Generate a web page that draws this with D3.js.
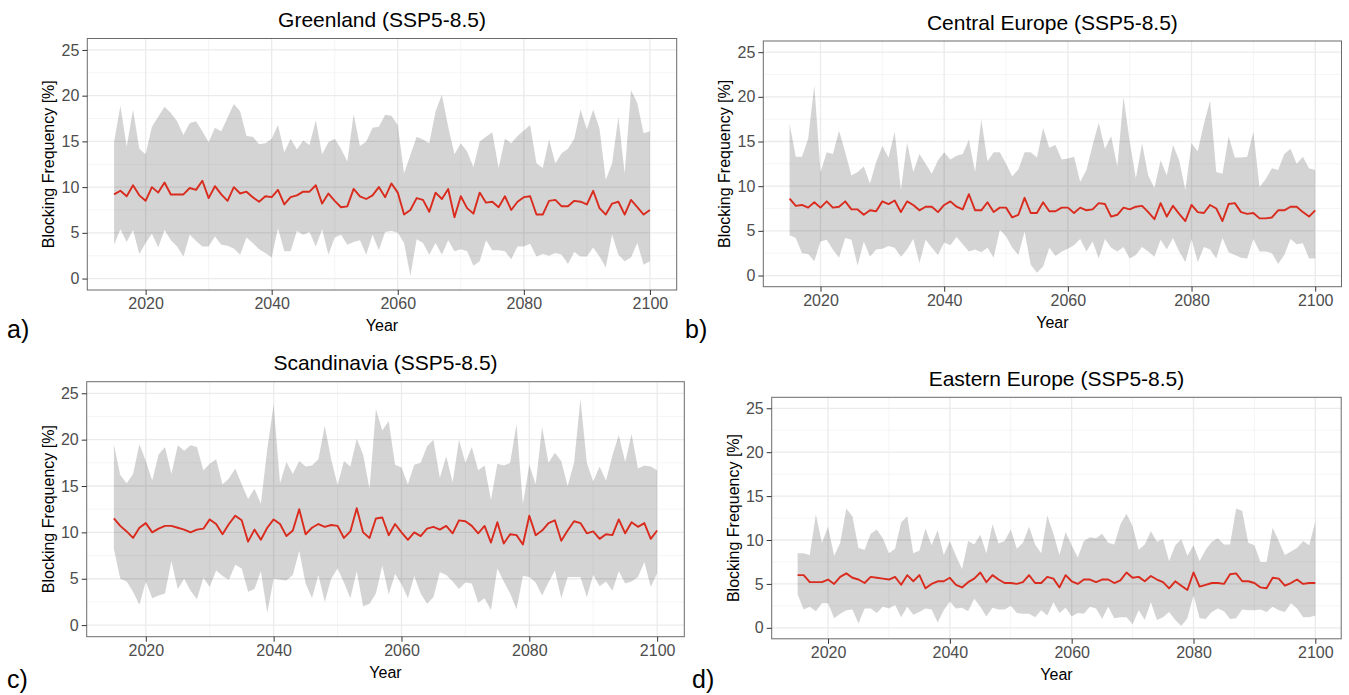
<!DOCTYPE html>
<html>
<head>
<meta charset="utf-8">
<script src="https://cdn.jsdelivr.net/npm/d3@7"></script>
<style>
  html, body { margin: 0; padding: 0; background: #fff; }
  svg { display: block; }
</style>
</head>
<body>
<svg id="chart" width="1349" height="695"></svg>
<script>
// ---------------- DATA ----------------
const years = d3.range(2015, 2101);
const yTicks = [0, 5, 10, 15, 20, 25];
const xTicks = [2020, 2040, 2060, 2080, 2100];
const titles = ["Greenland (SSP5-8.5)", "Central Europe (SSP5-8.5)", "Scandinavia (SSP5-8.5)", "Eastern Europe (SSP5-8.5)"];
const tags = ["a)", "b)", "c)", "d)"];
const yLabel = "Blocking Frequency [%]";
const xLabel = "Year";

// Greenland
const aMean = [9.2,9.6,9.0,10.2,9.1,8.5,10.0,9.4,10.5,9.2,9.2,9.2,9.9,9.7,10.7,8.8,10.1,9.2,8.5,10.0,9.3,9.5,8.9,8.4,9.0,8.9,9.7,8.1,8.9,9.1,9.5,9.5,10.2,8.2,9.3,8.5,7.8,7.9,9.8,9.0,8.7,9.1,10.0,8.9,
  10.4,9.4,7.0,7.5,8.8,8.6,7.3,9.4,8.7,9.8,6.7,9.0,7.7,7.1,9.4,8.3,8.4,7.8,9.0,7.5,8.4,8.9,9.0,7.0,7.0,8.5,8.6,7.9,7.9,8.5,8.4,8.1,9.6,7.7,7.0,8.2,8.4,7.0,8.6,7.8,7.0,7.5];
const aHi = [15.0,18.9,14.4,18.5,14.2,13.6,16.6,17.7,18.8,18.1,17.2,15.7,17.0,17.2,16.1,14.9,16.5,16.1,17.6,19.1,18.3,15.6,15.5,14.7,14.8,15.3,16.8,13.8,15.3,14.1,15.1,14.6,17.3,13.6,14.9,15.3,14.2,12.8,18.0,14.5,15.0,16.5,16.6,17.9,
  17.8,16.8,11.5,13.5,15.5,15.2,14.8,18.3,20.1,16.6,13.6,14.8,13.9,12.2,15.0,15.5,16.0,12.1,15.3,14.8,15.6,16.2,16.8,12.6,12.1,15.2,12.6,13.7,14.2,15.3,18.5,16.3,18.5,16.4,10.8,12.6,17.7,11.5,20.6,19.2,15.9,16.1];
const aLo = [3.7,5.4,4.0,5.3,2.7,3.9,4.9,3.4,5.3,4.2,3.5,2.4,4.8,4.1,3.5,3.5,4.6,3.7,3.6,3.3,2.6,4.5,3.9,3.2,2.8,2.3,5.5,3.0,3.0,5.2,4.8,5.1,3.5,5.4,2.6,4.5,4.8,3.7,4.0,4.2,2.6,4.8,3.1,5.1,
  5.2,5.0,3.9,0.3,4.3,3.9,2.6,3.9,2.6,4.2,3.0,3.2,3.0,1.4,1.9,4.2,3.1,3.1,3.0,2.1,3.5,3.5,3.8,2.4,2.7,2.5,2.8,2.6,1.6,2.9,2.4,2.4,3.4,2.4,1.2,4.8,2.6,1.9,2.3,3.9,1.5,1.9];

// Central Europe
const bMean = [8.6,7.8,7.9,7.6,8.2,7.6,8.3,7.6,7.7,8.3,7.4,7.4,6.8,7.3,7.2,8.3,8.0,8.4,7.1,8.3,7.9,7.3,7.7,7.7,7.1,7.9,8.3,7.7,7.4,9.1,7.3,7.3,8.2,7.1,7.6,7.6,6.5,6.8,8.7,7.0,7.0,8.2,7.2,
  7.2,7.6,7.6,7.0,7.6,7.3,7.4,8.1,8.0,6.6,6.8,7.6,7.4,7.7,7.8,7.1,6.3,8.1,6.6,7.8,6.9,6.1,7.9,7.1,7.0,7.9,7.5,6.1,8.0,8.1,7.1,6.9,7.0,6.4,6.4,6.5,7.3,7.3,7.7,7.7,7.1,6.6,7.3];
const bHi = [17.0,13.3,13.3,15.3,21.3,11.6,13.8,13.6,16.2,13.8,11.2,11.6,12.2,10.3,12.7,14.5,13.2,16.1,9.6,14.9,11.6,13.6,12.5,11.4,12.9,13.8,13.0,13.4,13.6,15.2,11.6,17.5,12.8,13.8,13.8,12.5,11.1,11.9,13.8,13.8,13.2,16.5,14.3,
  14.6,13.0,13.1,13.3,10.5,11.8,14.6,17.1,14.2,15.6,12.2,20.0,15.0,10.9,14.8,11.2,9.8,12.9,11.2,14.6,12.9,9.6,14.8,13.9,17.0,19.6,11.6,11.4,15.6,13.2,13.2,13.3,16.1,9.9,10.8,12.0,11.8,13.6,14.2,12.5,13.3,12.0,11.8];
const bLo = [4.5,4.2,2.5,2.4,1.6,3.8,4.0,2.9,2.0,4.2,4.0,1.1,3.8,2.1,2.9,3.0,3.3,3.1,2.1,2.9,4.1,1.4,4.0,3.1,2.3,3.7,3.4,4.3,3.5,2.7,2.9,2.6,3.1,2.0,5.1,4.4,3.1,2.3,4.9,1.2,0.3,1.0,3.1,
  2.2,2.7,3.0,3.4,4.1,2.7,3.8,1.9,4.1,3.1,2.7,3.2,1.9,2.3,3.2,2.7,2.1,4.0,2.9,4.2,2.7,1.5,4.1,1.5,3.2,2.9,1.9,4.2,2.6,2.3,2.0,1.9,4.1,2.7,2.7,2.5,1.3,2.3,4.1,3.5,3.6,1.9,1.9];

// Scandinavia
const cMean = [11.5,10.7,10.1,9.4,10.5,11.0,10.0,10.4,10.7,10.7,10.5,10.3,10.0,10.3,10.4,11.4,10.9,9.8,10.9,11.8,11.3,9.0,10.3,9.2,10.5,11.4,10.9,9.6,10.2,12.5,9.8,10.5,10.9,10.6,10.8,10.7,9.4,10.1,12.6,10.0,9.4,11.5,11.6,
  9.7,10.9,10.0,9.2,10.0,9.6,10.4,10.6,10.3,10.7,9.9,11.3,11.2,10.7,9.9,10.7,8.9,11.1,8.8,9.8,9.7,8.7,11.8,9.7,10.2,11.0,11.3,9.1,10.2,11.2,11.0,9.9,10.1,9.3,9.8,9.7,11.4,9.9,11.1,10.6,11.0,9.3,10.2];
const cHi = [19.5,16.2,15.3,16.3,19.5,17.7,15.6,18.4,19.2,16.3,19.4,18.8,19.4,19.2,16.7,17.4,17.9,15.2,15.8,16.9,15.2,13.6,14.7,13.1,19.0,23.8,15.3,17.6,16.3,17.7,17.1,17.2,17.9,21.5,17.9,15.1,17.7,17.1,20.1,18.4,14.7,23.3,21.0,
  22.0,17.3,17.0,15.2,17.3,17.5,19.3,20.0,15.9,18.2,15.4,20.0,17.5,19.2,16.7,17.2,13.5,17.4,17.2,17.5,21.7,13.1,17.3,15.2,21.4,17.5,18.6,17.7,15.0,17.5,24.4,17.5,15.5,17.1,15.6,18.3,20.5,17.6,20.6,16.9,17.2,17.1,16.7];
const cLo = [8.2,5.0,4.7,3.6,2.2,4.7,2.9,3.2,3.4,6.9,3.9,5.0,3.7,2.8,5.1,4.1,5.9,5.3,4.9,6.5,6.1,3.6,3.9,5.8,1.3,5.0,4.9,4.8,5.4,8.0,4.5,2.9,5.4,2.5,5.0,6.1,4.6,2.9,5.8,2.0,2.3,3.4,6.4,
  3.3,5.5,4.4,2.9,5.3,3.4,2.3,3.0,5.7,5.4,4.7,3.9,4.6,4.5,2.4,2.9,1.6,6.1,4.7,3.4,1.7,5.3,5.2,4.6,3.2,4.6,5.9,2.9,5.2,5.2,5.2,3.0,5.4,4.2,4.7,3.7,5.8,4.5,4.7,5.2,6.8,4.1,5.6];

// Eastern Europe
const dMean = [6.0,6.0,5.2,5.2,5.2,5.5,5.0,5.8,6.2,5.7,5.5,5.1,5.8,5.7,5.6,5.5,5.8,4.9,6.0,5.3,6.0,4.5,5.0,5.3,5.3,5.7,4.9,4.6,5.2,5.6,6.3,5.2,6.0,5.5,5.1,5.1,5.0,5.2,6.0,5.1,5.1,5.8,
  5.6,4.6,6.0,5.3,5.0,5.5,5.5,5.2,5.5,5.5,5.1,5.4,6.3,5.7,5.8,5.3,5.9,5.5,5.2,4.5,5.3,4.8,4.3,6.3,4.7,4.9,5.1,5.1,5.0,6.1,6.2,5.3,5.3,5.1,4.6,4.5,5.7,5.6,4.8,5.1,5.5,5.0,5.1,5.1];
const dHi = [8.5,8.5,8.3,12.9,9.7,11.5,8.2,9.7,13.6,12.7,9.1,8.9,10.7,11.2,10.2,8.5,9.0,12.0,12.7,8.5,8.8,11.3,9.4,11.1,8.3,9.9,8.2,6.7,9.9,9.5,10.6,8.5,11.8,9.6,9.9,11.2,9.0,9.7,11.5,9.5,8.5,12.8,
  10.7,8.3,10.9,9.4,8.0,9.9,10.3,10.2,10.7,9.7,9.5,11.8,13.0,11.6,8.9,9.5,11.0,9.8,10.1,7.6,9.4,10.1,8.2,9.4,7.6,8.9,9.8,10.2,9.5,9.5,13.6,13.3,9.7,9.4,7.5,7.5,11.4,9.9,8.3,8.7,9.1,9.9,9.4,12.1];
const dLo = [3.8,2.1,2.4,1.9,2.8,2.8,1.1,1.6,2.0,2.1,0.5,2.2,2.2,1.7,2.4,2.2,2.6,1.2,2.4,1.5,1.8,2.2,2.1,0.6,2.0,3.0,2.2,2.3,1.9,3.3,2.4,1.3,2.3,2.1,2.1,2.5,1.7,1.6,1.6,1.2,2.0,1.4,
  2.9,1.7,2.3,1.3,1.7,1.6,2.4,2.2,1.0,2.4,1.1,1.2,1.2,0.4,2.0,0.9,2.9,0.9,1.2,1.8,0.9,0.2,1.1,3.7,1.1,1.0,1.8,2.2,1.9,1.0,1.1,2.1,2.0,2.0,2.1,1.8,2.4,2.0,1.8,2.8,2.2,1.2,1.2,1.4];

// ---------------- LAYOUT ----------------
const panelData = [
  { mean: aMean, lo: aLo, hi: aHi },
  { mean: bMean, lo: bLo, hi: bHi },
  { mean: cMean, lo: cLo, hi: cHi },
  { mean: dMean, lo: dLo, hi: dHi }
];
const boxes = [
  { l: 87.3,  t: 38.5,  r: 676.7,  b: 290.0 },
  { l: 763.3, t: 41.0,  r: 1341.5, b: 286.7 },
  { l: 86.7,  t: 381.7, r: 684.3,  b: 636.7 },
  { l: 771.7, t: 397.3, r: 1341.2, b: 638.8 }
];
const tagPos = [
  { x: 7,   y: 338 },
  { x: 685, y: 338 },
  { x: 7,   y: 688 },
  { x: 692, y: 688 }
];

const FONT = "'Liberation Sans', Arial, Helvetica, sans-serif";
const svg = d3.select("#chart");
svg.append("rect").attr("width", 1349).attr("height", 695).attr("fill", "#fff");

panelData.forEach((pd, i) => {
  const bx = boxes[i];
  const x = d3.scaleLinear().domain([2015 - 4.25, 2100 + 4.25]).range([bx.l, bx.r]);
  const y = d3.scaleLinear().domain([-1.25, 26.25]).range([bx.b, bx.t]);
  const g = svg.append("g");

  const clipId = "clip" + i;
  svg.append("clipPath").attr("id", clipId)
    .append("rect").attr("x", bx.l).attr("y", bx.t).attr("width", bx.r - bx.l).attr("height", bx.b - bx.t);

  const plot = g.append("g").attr("clip-path", `url(#${clipId})`);

  // minor grid
  const yMinor = yTicks.slice(0, -1).map(v => v + 2.5);
  const xMinor = xTicks.slice(0, -1).map(v => v + 10);
  plot.selectAll(".ymin").data(yMinor).join("line")
    .attr("x1", bx.l).attr("x2", bx.r).attr("y1", d => y(d)).attr("y2", d => y(d))
    .attr("stroke", "#F2F2F2").attr("stroke-width", 0.8);
  plot.selectAll(".xmin").data(xMinor).join("line")
    .attr("y1", bx.t).attr("y2", bx.b).attr("x1", d => x(d)).attr("x2", d => x(d))
    .attr("stroke", "#F2F2F2").attr("stroke-width", 0.8);
  // major grid
  plot.selectAll(".ymaj").data(yTicks).join("line")
    .attr("x1", bx.l).attr("x2", bx.r).attr("y1", d => y(d)).attr("y2", d => y(d))
    .attr("stroke", "#EBEBEB").attr("stroke-width", 1.3);
  plot.selectAll(".xmaj").data(xTicks).join("line")
    .attr("y1", bx.t).attr("y2", bx.b).attr("x1", d => x(d)).attr("x2", d => x(d))
    .attr("stroke", "#EBEBEB").attr("stroke-width", 1.3);

  const rows = years.map((yr, k) => ({ yr, m: pd.mean[k], lo: pd.lo[k], hi: pd.hi[k] }));

  const area = d3.area().x(d => x(d.yr)).y0(d => y(d.lo)).y1(d => y(d.hi));
  plot.append("path").datum(rows).attr("d", area)
    .attr("fill", "#000").attr("fill-opacity", 0.17);

  const line = d3.line().x(d => x(d.yr)).y(d => y(d.m));
  plot.append("path").datum(rows).attr("d", line)
    .attr("fill", "none").attr("stroke", "#D92B1E").attr("stroke-width", 1.9)
    .attr("stroke-linejoin", "round");

  // border
  g.append("rect").attr("x", bx.l).attr("y", bx.t).attr("width", bx.r - bx.l).attr("height", bx.b - bx.t)
    .attr("fill", "none").attr("stroke", "#6b6b6b").attr("stroke-width", 1);

  // axes
  const yAxis = d3.axisLeft(y).tickValues(yTicks).tickSize(5).tickPadding(3).tickFormat(d3.format("d"));
  const xAxis = d3.axisBottom(x).tickValues(xTicks).tickSize(5).tickPadding(3).tickFormat(d3.format("d"));
  const ya = g.append("g").attr("transform", `translate(${bx.l},0)`).call(yAxis);
  const xa = g.append("g").attr("transform", `translate(0,${bx.b})`).call(xAxis);
  [ya, xa].forEach(a => {
    a.select(".domain").remove();
    a.selectAll(".tick line").attr("stroke", "#333").attr("stroke-width", 1);
    a.selectAll(".tick text").attr("fill", "#4D4D4D").style("font-family", FONT).style("font-size", "16px");
  });

  // title
  g.append("text").attr("x", (bx.l + bx.r) / 2).attr("y", bx.t - 11.5)
    .attr("text-anchor", "middle").style("font-family", FONT).style("font-size", "21px").attr("fill", "#000")
    .text(titles[i]);
  // x label
  g.append("text").attr("x", (bx.l + bx.r) / 2).attr("y", bx.b + 41)
    .attr("text-anchor", "middle").style("font-family", FONT).style("font-size", "16px").attr("fill", "#000")
    .text(xLabel);
  // y label
  const ly = (bx.t + bx.b) / 2, lx = bx.l - 33;
  g.append("text").attr("transform", `translate(${lx},${ly}) rotate(-90)`)
    .attr("text-anchor", "middle").style("font-family", FONT).style("font-size", "16px").attr("fill", "#000")
    .text(yLabel);
  // tag
  svg.append("text").attr("x", tagPos[i].x).attr("y", tagPos[i].y)
    .style("font-family", FONT).style("font-size", "25px").attr("fill", "#000")
    .text(tags[i]);
});
</script>
</body>
</html>
